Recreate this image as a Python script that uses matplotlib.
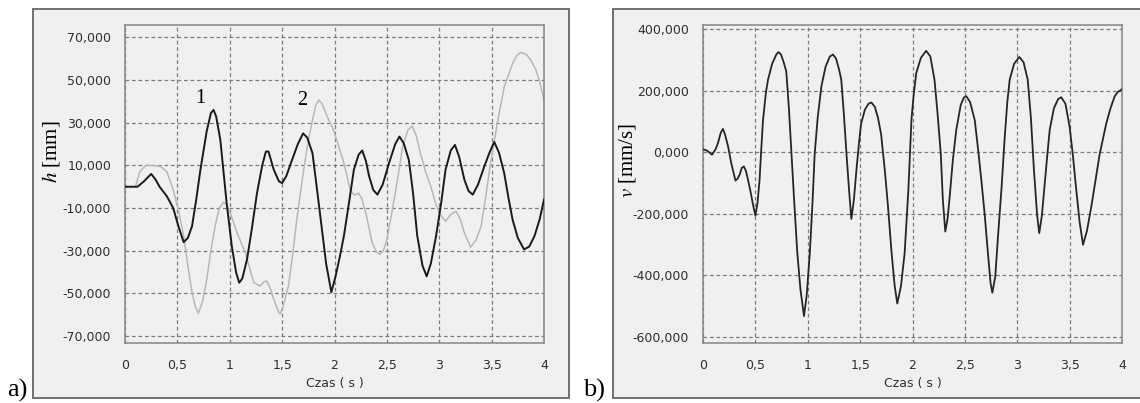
import numpy as np
import matplotlib.pyplot as plt
from matplotlib.patches import Rectangle

# --- data ---
# a) displacement h [mm], curve 1 (black)
t_h1 = [0.00, 0.12, 0.18, 0.25, 0.29, 0.33, 0.40, 0.46, 0.51, 0.56, 0.60, 0.64, 0.68, 0.72,
        0.78, 0.82, 0.845, 0.87, 0.91, 0.97, 1.02, 1.06, 1.09, 1.12, 1.165, 1.21, 1.26, 1.31,
        1.345, 1.37, 1.42, 1.47, 1.50, 1.54, 1.595, 1.65, 1.70, 1.74, 1.79, 1.83, 1.87, 1.92,
        1.97, 2.01, 2.05, 2.09, 2.14, 2.185, 2.23, 2.265, 2.30, 2.33, 2.37, 2.41, 2.46, 2.52,
        2.58, 2.62, 2.66, 2.71, 2.75, 2.79, 2.84, 2.88, 2.92, 2.97, 3.02, 3.06, 3.11, 3.15,
        3.19, 3.24, 3.28, 3.32, 3.37, 3.43, 3.48, 3.525, 3.57, 3.62, 3.66, 3.70, 3.75, 3.81,
        3.86, 3.91, 3.96, 4.00]
h1 = [0, 0, 2500, 6000, 3500, 0, -4500, -10000, -18500, -26000, -24000, -18500, -6000, 8000,
      26000, 34500, 36000, 33000, 22000, -7500, -28000, -40000, -45000, -43000, -34000, -20000,
      -3000, 10000, 16500, 16500, 8000, 2500, 1700, 5000, 12600, 20000, 25000, 23000, 15700, 0,
      -16000, -36000, -49500, -42000, -33000, -23000, -7000, 8000, 15000, 17000, 12000, 5000,
      -1500, -3700, 1000, 11000, 20000, 23500, 20500, 12500, -3000, -23000, -37000, -42000,
      -36000, -23000, -7000, 8000, 17000, 19600, 14000, 3300, -2000, -3700, 1000, 9500, 16000,
      21000, 16000, 6400, -5000, -15400, -24000, -29400, -28000, -23000, -15000, -6000]

# a) displacement h [mm], curve 2 (light grey)
t_h2 = [0.00, 0.10, 0.14, 0.20, 0.27, 0.34, 0.40, 0.46, 0.51, 0.56, 0.60, 0.64, 0.67, 0.70,
        0.74, 0.78, 0.82, 0.86, 0.90, 0.94, 0.97, 1.005, 1.07, 1.15, 1.20, 1.23, 1.29, 1.33,
        1.355, 1.39, 1.42, 1.46, 1.48, 1.51, 1.56, 1.60, 1.64, 1.68, 1.72, 1.76, 1.79, 1.82,
        1.85, 1.88, 1.93, 1.99, 2.04, 2.09, 2.15, 2.19, 2.23, 2.26, 2.30, 2.36, 2.40, 2.435,
        2.47, 2.50, 2.54, 2.58, 2.62, 2.65, 2.70, 2.74, 2.78, 2.82, 2.87, 2.92, 2.96, 3.00,
        3.06, 3.11, 3.16, 3.20, 3.24, 3.30, 3.35, 3.40, 3.44, 3.48, 3.52, 3.56, 3.62, 3.70,
        3.74, 3.78, 3.83, 3.875, 3.92, 3.955, 4.00]
h2 = [0, 0, 7000, 10000, 10000, 9500, 7000, -1400, -11000, -23000, -37000, -49500, -56000,
      -59300, -54000, -43500, -30000, -18500, -10000, -7300, -8500, -12300, -21600, -31000,
      -40000, -45000, -46500, -44500, -44200, -48000, -52700, -58000, -59700, -56000, -46500,
      -32000, -15400, -1000, 12600, 24000, 31300, 38000, 40600, 39000, 33000, 26600, 19000,
      11000, -1400, -4000, -3000, -5500, -12500, -26300, -30500, -31700, -29500, -24700,
      -14000, -3000, 9000, 18800, 26500, 28500, 24000, 15700, 7000, 0, -7000, -12300, -16200,
      -13000, -11500, -15000, -21600, -28300, -25000, -18500, -6000, 8000, 20000, 31300,
      46800, 57700, 61500, 63000, 62000, 59300, 55000, 50000, 40600]

# b) velocity v [mm/s]
t_v = [0.00, 0.04, 0.086, 0.12, 0.143, 0.17, 0.19, 0.21, 0.24, 0.27, 0.31, 0.33, 0.35, 0.37,
       0.39, 0.41, 0.43, 0.455, 0.477, 0.50, 0.52, 0.54, 0.555, 0.573, 0.60, 0.62, 0.66, 0.70,
       0.72, 0.745, 0.77, 0.795, 0.82, 0.845, 0.87, 0.90, 0.93, 0.964, 0.99, 1.02, 1.045,
       1.066, 1.095, 1.13, 1.17, 1.21, 1.24, 1.27, 1.30, 1.32, 1.345, 1.37, 1.395, 1.416,
       1.44, 1.464, 1.49, 1.51, 1.545, 1.58, 1.607, 1.64, 1.67, 1.70, 1.735, 1.766, 1.80,
       1.83, 1.855, 1.89, 1.925, 1.96, 1.99, 2.01, 2.036, 2.08, 2.13, 2.17, 2.21, 2.24, 2.27,
       2.29, 2.313, 2.335, 2.355, 2.385, 2.418, 2.46, 2.49, 2.514, 2.55, 2.594, 2.625, 2.657,
       2.69, 2.72, 2.745, 2.762, 2.79, 2.816, 2.85, 2.88, 2.905, 2.928, 2.97, 3.02, 3.06,
       3.10, 3.13, 3.16, 3.19, 3.21, 3.235, 3.26, 3.285, 3.31, 3.35, 3.39, 3.42, 3.46, 3.50,
       3.53, 3.56, 3.595, 3.628, 3.665, 3.707, 3.75, 3.787, 3.85, 3.89, 3.93, 3.96, 4.00]
v = [10000, 5000, -8000, 10000, 30000, 64000, 76000, 58000, 18000, -36000, -92000, -86000,
     -73000, -51000, -46000, -61000, -90000, -130000, -170000, -206000, -166000, -90000, 3000,
     105000, 192000, 235000, 288000, 318000, 326000, 318000, 293000, 263000, 143000, -6000,
     -156000, -326000, -445000, -533000, -465000, -326000, -166000, -6000, 113000, 214000,
     278000, 311000, 318000, 305000, 268000, 236000, 123000, -6000, -126000, -217000, -156000,
     -61000, 34000, 94000, 138000, 158000, 162000, 148000, 113000, 59000, -56000, -176000,
     -326000, -435000, -492000, -435000, -328000, -126000, 105000, 183000, 258000, 307000,
     330000, 312000, 236000, 123000, -6000, -156000, -258000, -216000, -144000, -26000, 73000,
     153000, 178000, 182000, 163000, 105000, 13000, -90000, -206000, -328000, -425000, -457000,
     -405000, -275000, -116000, 47000, 163000, 236000, 288000, 310000, 293000, 236000, 113000,
     -61000, -206000, -263000, -206000, -111000, -16000, 73000, 143000, 173000, 179000, 158000,
     83000, -6000, -111000, -226000, -301000, -256000, -177000, -86000, -6000, 94000, 143000,
     182000, 196000, 205000]

xticks = [0, 0.5, 1, 1.5, 2, 2.5, 3, 3.5, 4]
xtick_labels = ['0', '0,5', '1', '1,5', '2', '2,5', '3', '3,5', '4']
h_ticks = [70000, 50000, 30000, 10000, -10000, -30000, -50000, -70000]
h_tick_labels = ['70,000', '50,000', '30,000', '10,000', '-10,000', '-30,000', '-50,000', '-70,000']
v_ticks = [400000, 200000, 0, -200000, -400000, -600000]
v_tick_labels = ['400,000', '200,000', '0,000', '-200,000', '-400,000', '-600,000']

W, H = 1140, 403
fig = plt.figure(figsize=(W / 100, H / 100), dpi=100)
fig.patch.set_facecolor('white')

panel_bg = '#f0f0f0'
txt_col = '#303030'


def px_rect(x0, y0, x1, y1):
    # pixel box (top-left origin) -> figure fraction
    return [x0 / W, (H - y1) / H, (x1 - x0) / W, (y1 - y0) / H]


# outer grey panels
for (x0, y0, x1, y1) in [(33, 9, 569, 398), (613, 9, 1145, 398)]:
    l, b, w, h = px_rect(x0, y0, x1, y1)
    fig.add_artist(Rectangle((l, b), w, h, transform=fig.transFigure,
                             facecolor=panel_bg, edgecolor='#707070', lw=1.4, zorder=-5))

ax1 = fig.add_axes(px_rect(125, 25, 544, 342.7))
ax2 = fig.add_axes(px_rect(703, 25, 1122, 342.7))

ax1.plot(t_h2, h2, color='#b8b8b8', lw=1.1, zorder=2)
ax1.plot(t_h1, h1, color='#1a1a1a', lw=1.4, zorder=3)
ax2.plot(t_v, v, color='#262626', lw=1.3, zorder=3)

ax1.set_ylim(-73100, 75800)
ax2.set_ylim(-619500, 414000)
ax1.set_yticks(h_ticks, h_tick_labels)
ax2.set_yticks(v_ticks, v_tick_labels)

for ax in (ax1, ax2):
    ax.set_facecolor(panel_bg)
    ax.set_xlim(0, 4)
    ax.set_xticks(xticks, xtick_labels)
    ax.grid(True, color='#7d7d7d', lw=0.9, linestyle=(0, (3, 2.2)))
    ax.set_axisbelow(True)
    for s in ax.spines.values():
        s.set_color('#858585')
        s.set_linewidth(1.1)
    ax.tick_params(axis='both', length=0, labelsize=9, colors=txt_col)
    ax.tick_params(axis='x', pad=12)
    ax.tick_params(axis='y', pad=10)
    ax.set_xlabel('Czas ( s )', fontsize=9, color=txt_col, labelpad=3)

serif = 'Liberation Serif'
fig.text(51 / W, 1 - 152 / H, r'$\mathit{h}$ [mm]', rotation=90, ha='center', va='center',
         fontsize=15, family=serif, math_fontfamily='stix')
fig.text(628 / W, 1 - 160 / H, r'$\mathit{v}$ [mm/s]', rotation=90, ha='center', va='center',
         fontsize=15, family=serif, math_fontfamily='stix')

ax1.text(0.72, 41500, '1', ha='center', va='center', fontsize=14.5, family=serif)
ax1.text(1.69, 40500, '2', ha='center', va='center', fontsize=14.5, family=serif)

fig.text(7 / W, 1 - 397 / H, 'a)', ha='left', va='baseline', fontsize=19, family=serif)
fig.text(583 / W, 1 - 397 / H, 'b)', ha='left', va='baseline', fontsize=19, family=serif)

fig.savefig('out.png', dpi=100, facecolor='white')
